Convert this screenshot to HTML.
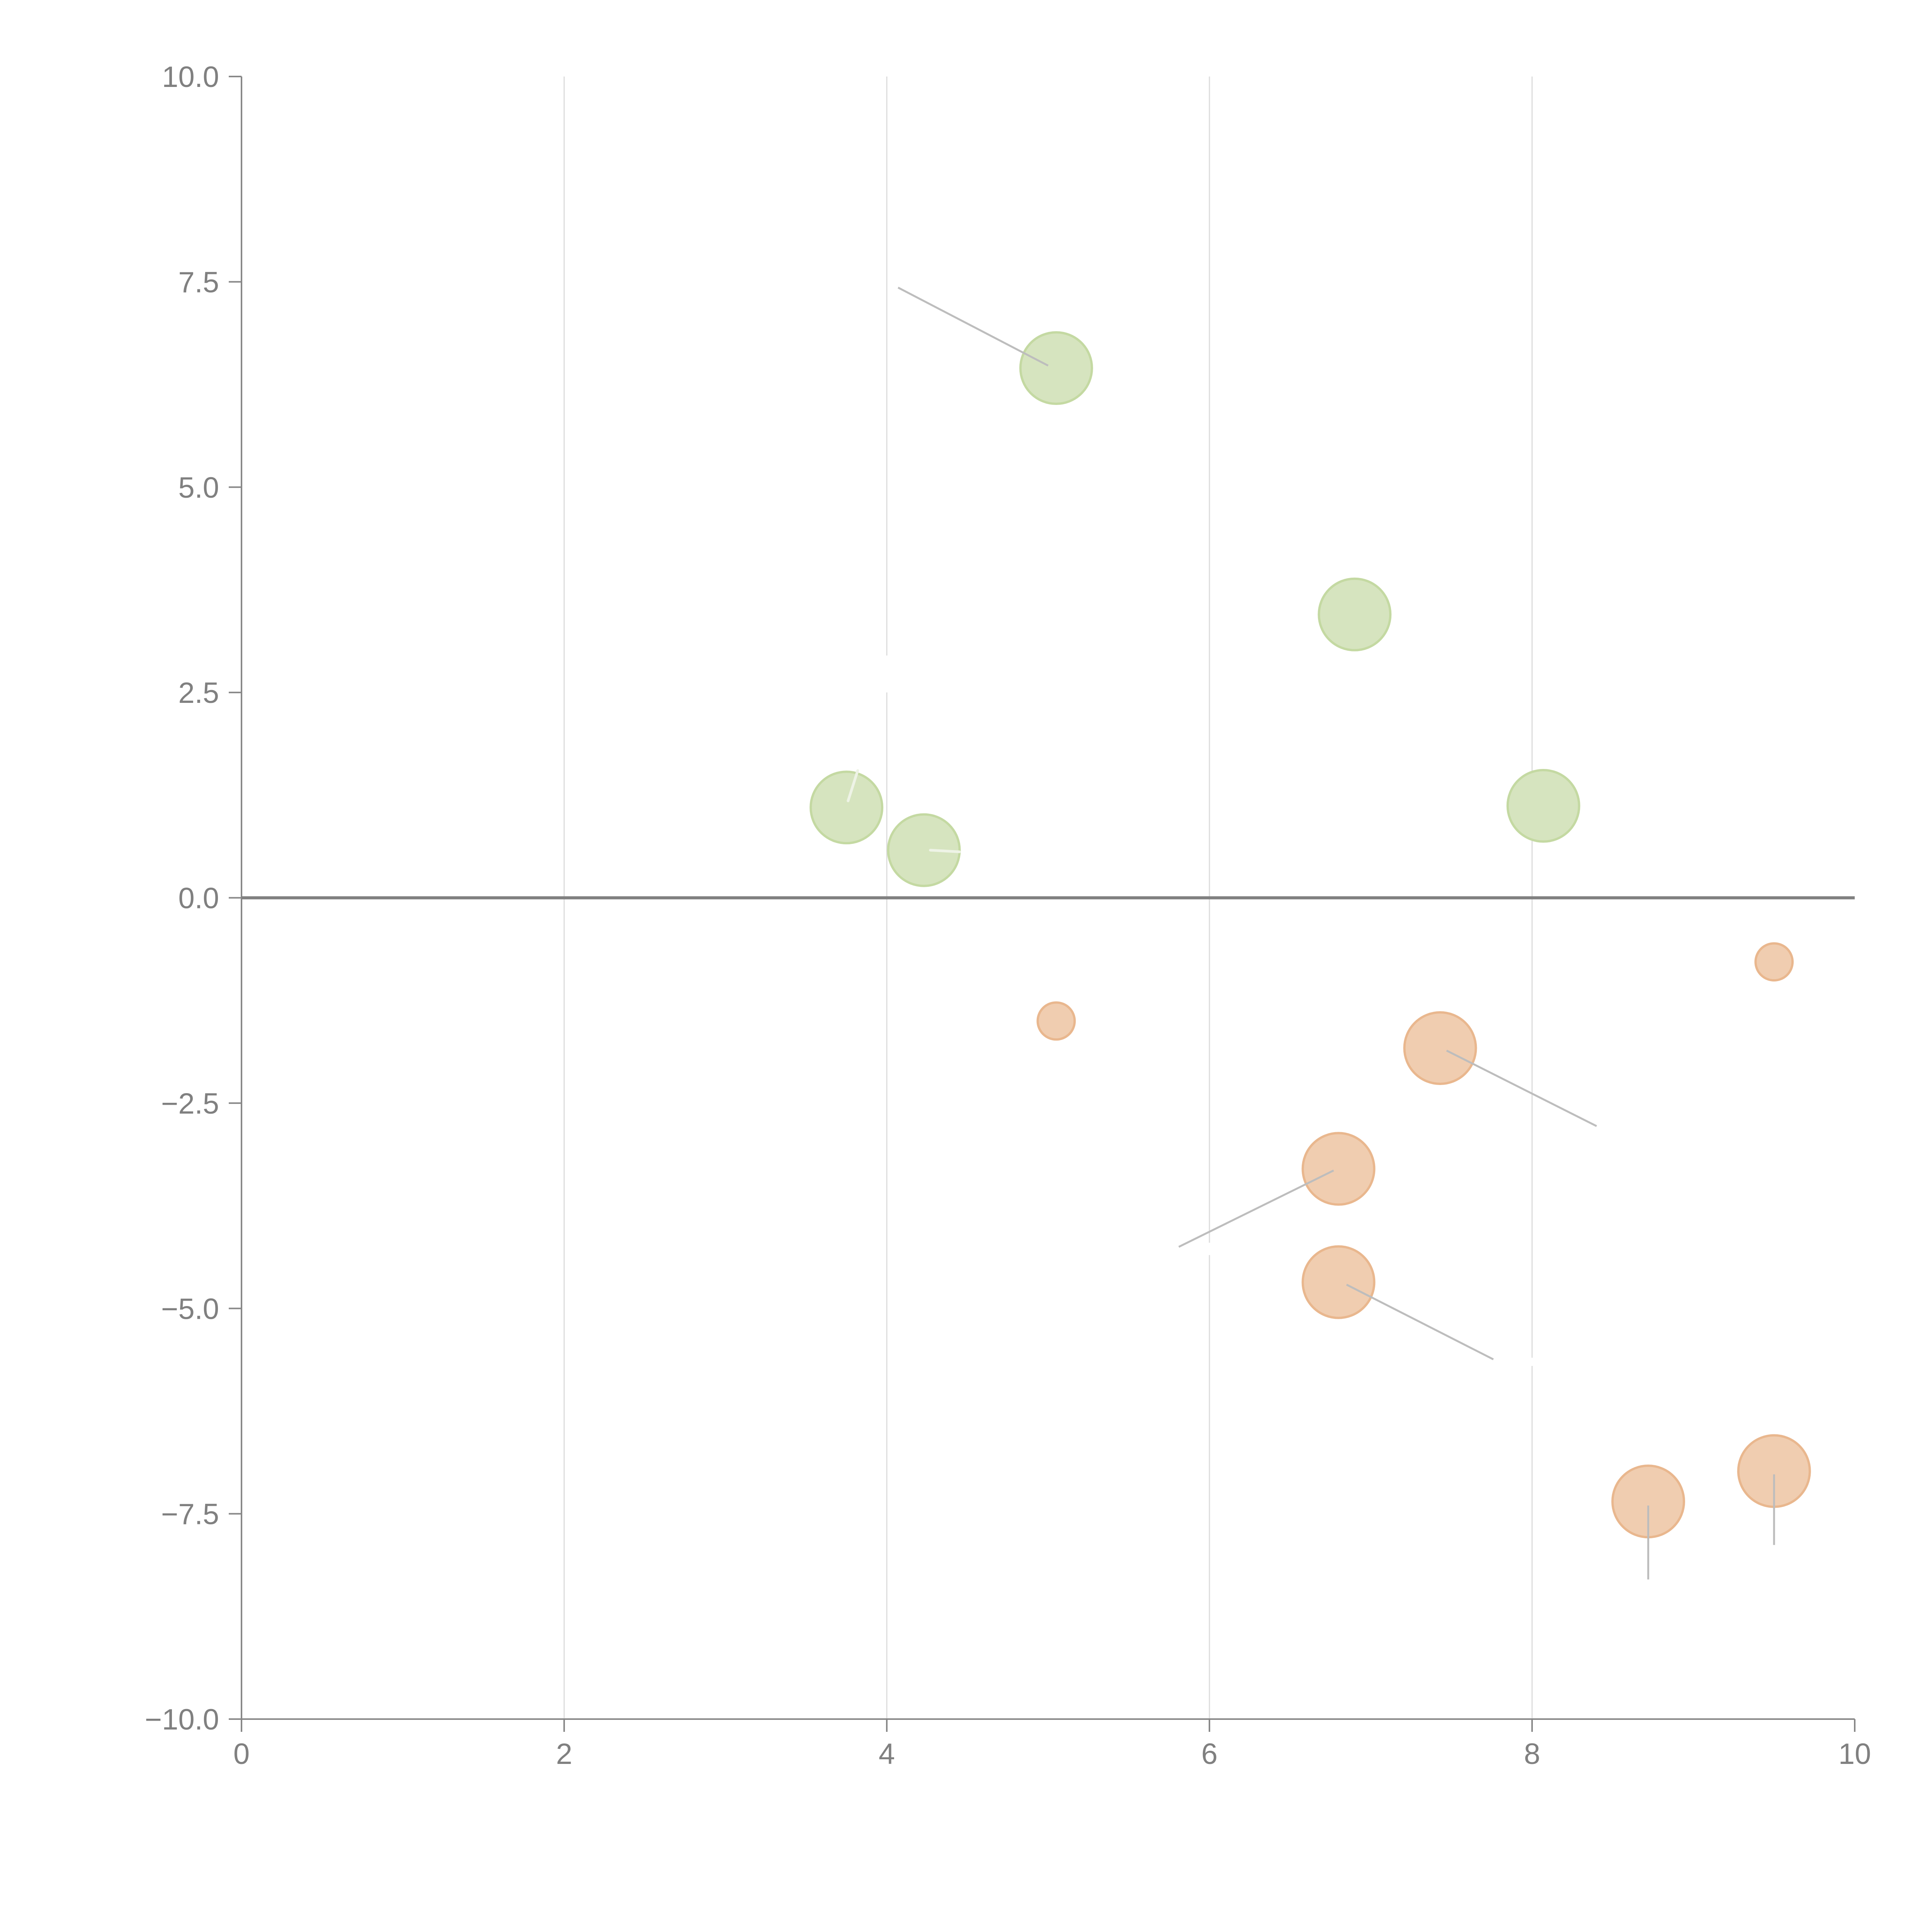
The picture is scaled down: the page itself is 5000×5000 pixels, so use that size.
<!DOCTYPE html>
<html><head><meta charset="utf-8"><style>html,body{margin:0;padding:0;background:#fff}svg{display:block}</style></head>
<body>
<svg id="chart" width="5000" height="5000" viewBox="0 0 5000 5000" xmlns="http://www.w3.org/2000/svg"></svg>
<script>
const xTicks=[0,2,4,6,8,10];
const yTicks=[-10,-7.5,-5,-2.5,0,2.5,5,7.5,10];
const yTickLabels=["\u221210.0","\u22127.5","\u22125.0","\u22122.5","0.0","2.5","5.0","7.5","10.0"];
const greenX=[5.05,6.9,3.75,4.23,8.07];
const greenY=[6.45,3.45,1.1,0.58,1.12];
const greenR=[29,29,29,29,29];
const orangeX=[9.5,5.05,7.43,6.8,6.8,8.72,9.5];
const orangeY=[-0.78,-1.5,-1.83,-3.3,-4.68,-7.35,-6.98];
const orangeR=[15,15,29,29,29,29,29];
const lineX1=[5.0,7.47,6.77,6.85,8.72,9.5];
const lineY1=[6.48,-1.86,-3.32,-4.71,-7.4,-7.02];
const lineX2=[4.07,8.40,5.81,7.76,8.72,9.5];
const lineY2=[7.43,-2.78,-4.25,-5.62,-8.30,-7.88];
const whiteX1=[3.76,4.27];
const whiteY1=[1.18,0.58];
const whiteX2=[3.82,4.45];
const whiteY2=[1.55,0.56];

const NS="http://www.w3.org/2000/svg";
const svg=document.getElementById('chart');
const L=625,R=4800,T=198,B=4449,K=3.189;
const sx=v=>L+(v-0)/(10-0)*(R-L);
const sy=v=>B-(v+10)/20*(B-T);
function el(tag,attrs,parent){const e=document.createElementNS(NS,tag);for(const k in attrs)e.setAttribute(k,attrs[k]);(parent||svg).appendChild(e);return e;}

xTicks.forEach(t=>{ if(t===0||t===10) return;
  const g=el('line',{x1:sx(t),x2:sx(t),y1:T,y2:B,stroke:'#dcdcdc','stroke-width':3});
  
  
});
const ya=el('line',{x1:L,x2:L,y1:T,y2:B,stroke:'#888','stroke-width':4});


const xa=el('line',{x1:L,x2:R,y1:B,y2:B,stroke:'#888','stroke-width':4});


const zl=el('line',{x1:L,x2:R,y1:sy(0),y2:sy(0),stroke:'#808080','stroke-width':8});



xTicks.forEach(t=>{
  el('line',{x1:sx(t),x2:sx(t),y1:B,y2:B+33,stroke:'#888','stroke-width':4});
  const tx=el('text',{x:sx(t),y:B+116,'text-anchor':'middle','font-family':'Liberation Sans, sans-serif','font-size':76,fill:'#808080'});
  tx.textContent=String(t);
  
  
});
yTicks.forEach((t,i)=>{
  el('line',{x1:L-33,x2:L,y1:sy(t),y2:sy(t),stroke:'#888','stroke-width':4});
  const tx=el('text',{x:L-58,y:sy(t)+27,'text-anchor':'end','font-family':'Liberation Sans, sans-serif','font-size':76,fill:'#808080'});
  tx.textContent=yTickLabels[i];
  
  
});

greenX.forEach((x,i)=>{
  const c=el('circle',{cx:sx(x),cy:sy(greenY[i]),r:greenR[i]*K,fill:'#d6e4bf',stroke:'#c4d9a2','stroke-width':6});
  
  
});
orangeX.forEach((x,i)=>{
  const c=el('circle',{cx:sx(x),cy:sy(orangeY[i]),r:orangeR[i]*K,fill:'#f0cdb0',stroke:'#e9b78e','stroke-width':6});
  
  
});
lineX1.forEach((x,i)=>{
  const l=el('line',{x1:sx(x),y1:sy(lineY1[i]),x2:sx(lineX2[i]),y2:sy(lineY2[i]),stroke:'#bdbdbd','stroke-width':5});
  
  
});
whiteX1.forEach((x,i)=>{
  const l=el('line',{x1:sx(x),y1:sy(whiteY1[i]),x2:sx(whiteX2[i]),y2:sy(whiteY2[i]),stroke:'#eef3e6','stroke-width':7,'stroke-linecap':'round'});
  
  
});
const gaps=[[4,2.95,2.5],[6,-4.2,-4.35],[8,-5.6,-5.7]];
gaps.forEach(g=>{
  const r=el('line',{x1:sx(g[0]),x2:sx(g[0]),y1:sy(g[1]),y2:sy(g[2]),stroke:'#fff','stroke-width':6});
  
  
});
</script>
</body></html>
